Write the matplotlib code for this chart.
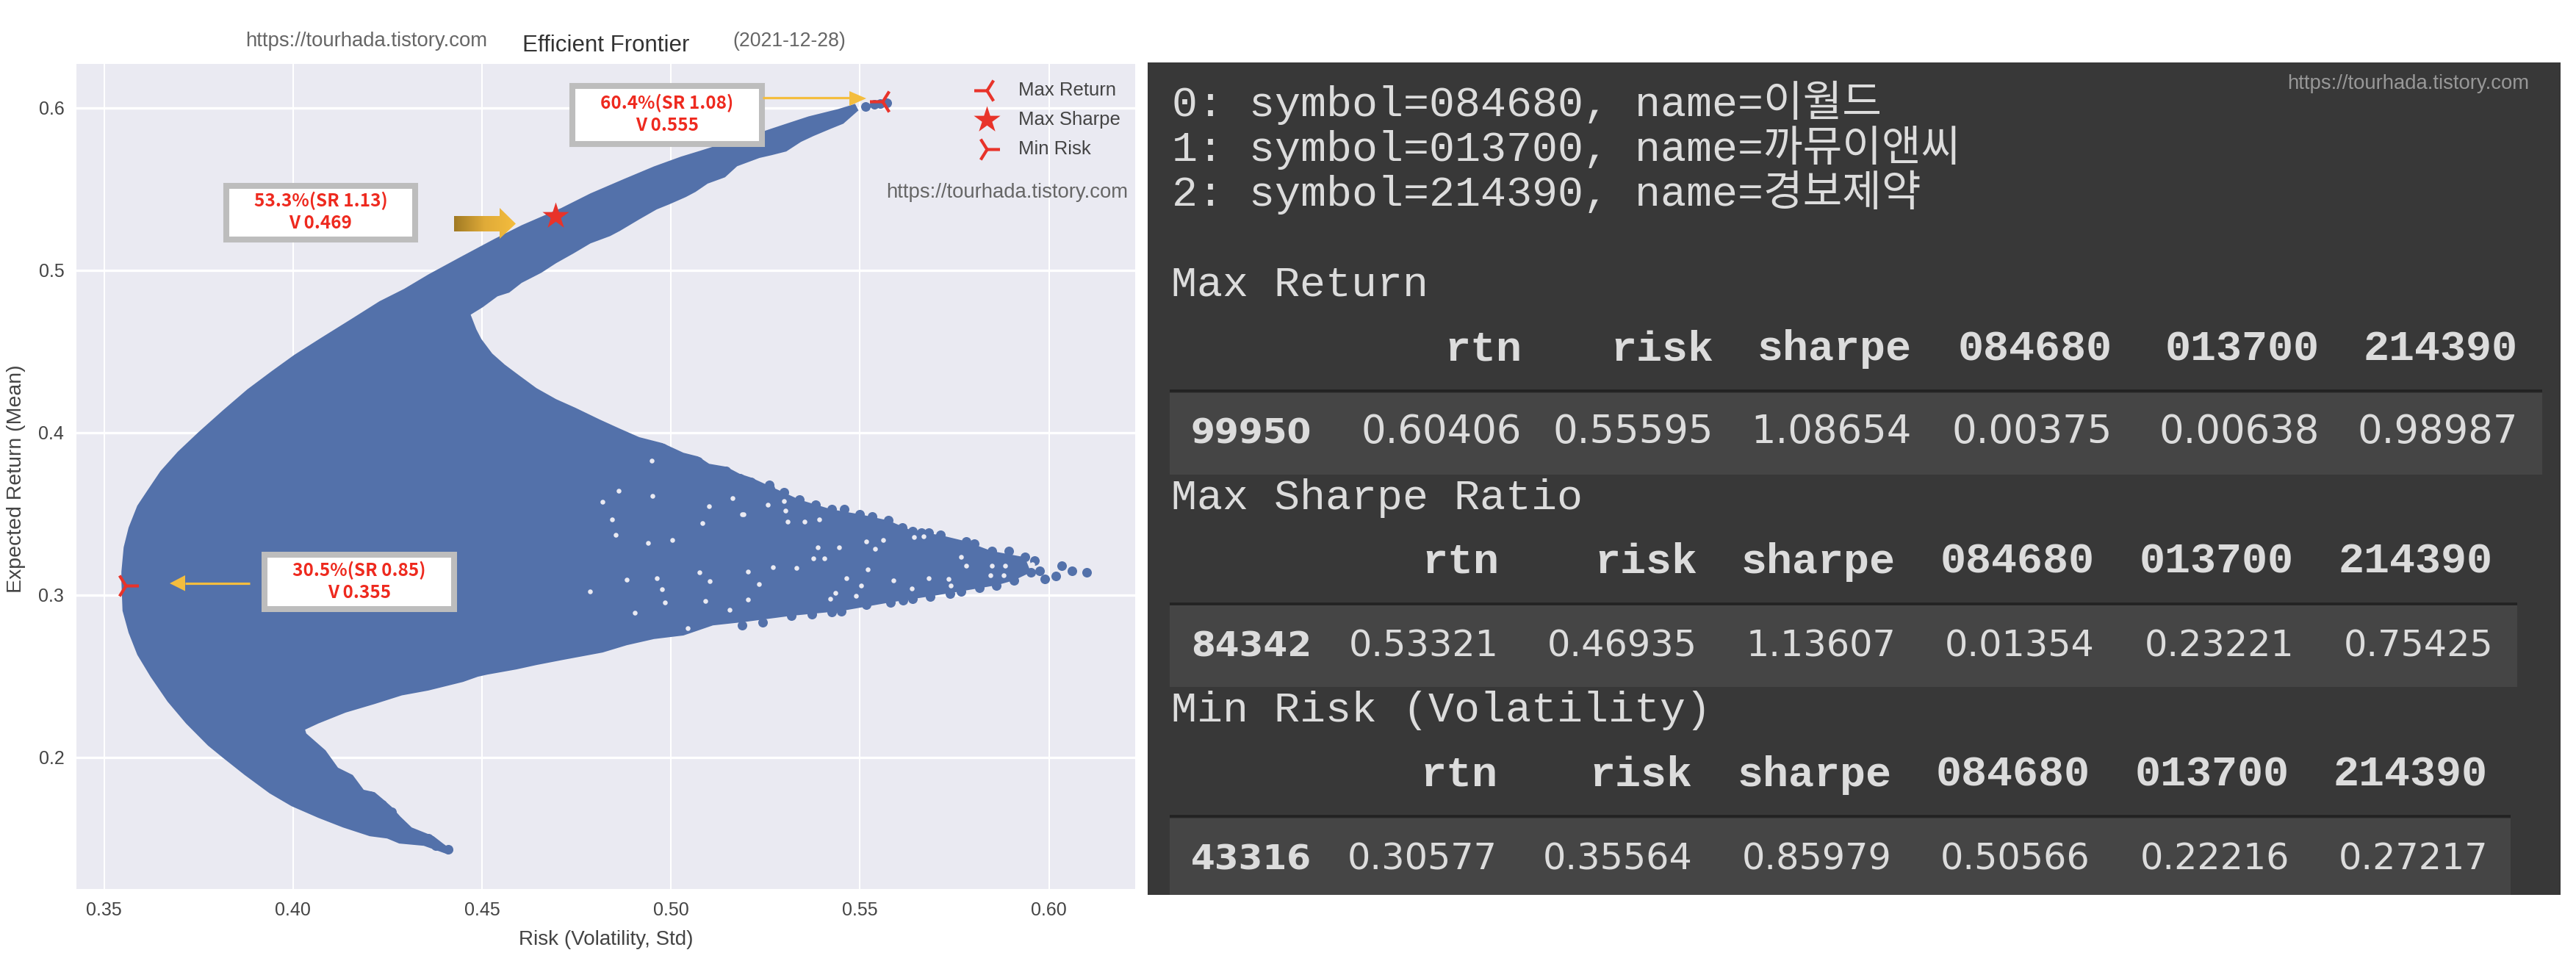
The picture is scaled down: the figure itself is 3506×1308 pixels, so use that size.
import numpy as np
import matplotlib
matplotlib.use("Agg")
import matplotlib.pyplot as plt
from matplotlib.patches import Rectangle, Polygon
from matplotlib.colors import LinearSegmentedColormap

# ---------------- data (risk, return) ----------------
# visible edge of the solid cloud, walked round from the minimum-risk side
lower_frontier = [(.3546,.3085),(.3549,.2903),(.3565,.2768),(.3588,.2632),(.3623,.2497),(.3668,.2344),(.3717,.2209),
                  (.3775,.2073),(.3814,.1999),(.3872,.1892),(.3938,.1779),(.3996,.1700),(.4067,.1628),(.4132,.1569),
                  (.4203,.1515),(.4249,.1501),(.4281,.1470),(.4346,.1456),(.4411,.1402),(.4424,.1424)]
lower_inner = [(.4397,.1470),(.4372,.1515),(.4314,.1569),(.4284,.1636),(.4261,.1696),(.4239,.1741),(.4216,.1786),
               (.4187,.1801),(.4158,.1892),(.4119,.1937),(.4086,.2044),(.4035,.2148),(.4032,.2171),(.4067,.2209),
               (.4139,.2276),(.4216,.2329),(.4288,.2382),(.4358,.2412),(.4450,.2465),(.4489,.2497),(.4514,.2510),
               (.4591,.2542),(.4644,.2569),(.4715,.2601),(.4819,.2646),(.4883,.2691),(.4955,.2729),(.5033,.2751),
               (.5111,.2813),(.5194,.2834)]
tip_body = [(.5318,.2872),(.5451,.2902),(.5581,.2955),(.5686,.2992),(.5767,.3023),(.5861,.3060),(.5907,.3090),
            (.5952,.3140),(.5936,.3233),(.5848,.3271),(.5780,.3331),(.5712,.3369),(.5640,.3394),(.5575,.3459),
            (.5500,.3497),(.5425,.3527),(.5340,.3587),(.5298,.3632),(.5262,.3670)]
upper_inner = [(.5211,.3724),(.5182,.3746),(.5146,.3790),(.5101,.3808),(.5072,.3853),(.5033,.3876),(.4978,.3935),
               (.4916,.3972),(.4864,.4025),(.4812,.4080),(.4747,.4153),(.4696,.4206),(.4644,.4274),(.4599,.4351),
               (.4560,.4419),(.4527,.4487),(.4498,.4577),(.4485,.4636),(.4470,.4726),(.4502,.4772),(.4541,.4839),
               (.4572,.4862),(.4605,.4922),(.4657,.4984),(.4696,.5043),(.4742,.5103),(.4787,.5165),(.4839,.5210),
               (.4865,.5242),(.4917,.5314),(.4962,.5374),(.4995,.5405),(.5039,.5450),(.5065,.5482),(.5097,.5533),
               (.5143,.5572),(.5175,.5640),(.5234,.5691),(.5266,.5708),(.5305,.5731),(.5344,.5790),(.5377,.5826),
               (.5423,.5871),(.5456,.5902),(.5496,.5984),(.5487,.6024)]
upper_frontier = [(.5442,.5992),(.5364,.5947),(.5305,.5902),(.5266,.5872),(.5247,.5857),(.5130,.5774),(.5078,.5736),
                  (.5026,.5699),(.4955,.5639),(.4877,.5563),(.4787,.5473),(.4709,.5382),(.4605,.5277),(.4534,.5194),
                  (.4443,.5081),(.4359,.4975),(.4294,.4885),(.4229,.4809),(.4152,.4696),(.4074,.4583),(.4003,.4478),
                  (.3944,.4379),(.3879,.4266),(.3815,.4138),(.3750,.4003),(.3695,.3882),(.3649,.3762),(.3614,.3641),
                  (.3588,.3550),(.3565,.3415),(.3552,.3294),(.3546,.3143)]

# individually visible points
point_risk = [.6100,.6060,.6034,.6018,.5988,.5962,.5952,.5975,.5936,.5894,.5848,.5803,.5780,.5738,.5712,
              .5682,.5663,.5640,.5611,.5575,.5533,.5500,.5458,.5425,.5383,.5340,.5298,.5262,
              .5907,.5861,.5816,.5767,.5738,.5686,.5640,.5614,.5581,.5516,.5451,.5425,.5373,.5318,.5243,.5188,
              .5515,.5538,.5554,.5571,
              .4978,.5033,.5072,.5101,.5146,.5182,.5211,.5260,
              .4411,.4378,.4358,.4261,.4236,.4203]
point_rtn = [.3140,.3150,.3180,.3115,.3101,.3211,.3140,.3150,.3233,.3271,.3271,.3316,.3331,.3316,.3369,
             .3384,.3384,.3394,.3414,.3459,.3482,.3497,.3527,.3527,.3557,.3587,.3632,.3655,
             .3090,.3060,.3045,.3023,.3008,.2992,.2977,.2970,.2955,.2940,.2902,.2895,.2880,.2872,.2834,.2812,
             .6008,.6023,.6024,.6029,
             .3905,.3844,.3822,.3777,.3763,.3717,.3695,.3678,
             .1434,.1456,.1501,.1665,.1710,.1764]

gap_risk = [.5298,.5303,.5308,.5354,.5393,.5445,.5389,.5376,.5406,.5269,.5520,.5188,.5256,.5562,.5464,.5503,
            .5588,.5490,.5435,.5637,.5682,.5734,.5741,.5767,.5780,.5848,.5884,.5845,.5881,.5956,.5669,.5643,
            .5516,.5539,.5233,.5204,.5331,.5422,.4819,.4861,.4951,.4949,.4844,.4853,.4940,.5003,.5084,.5162,
            .5191,.5076,.5102,.5091,.5156,.5045,.4882,.4963,.4977,.4984,.4905,.4785,.5204,.5100]
gap_rtn = [.3579,.3519,.3451,.3451,.3467,.3293,.3293,.3226,.3226,.3173,.3158,.3497,.3557,.3339,.3105,.3060,
           .3090,.2997,.3015,.3038,.3105,.3098,.3060,.3233,.3181,.3181,.3181,.3120,.3120,.3188,.3361,.3357,
           .3331,.3286,.3068,.3143,.3166,.2977,.3573,.3641,.3611,.3825,.3464,.3370,.3321,.3340,.3445,.3596,
           .3498,.3141,.3084,.2964,.2911,.2798,.3095,.3104,.3035,.2956,.2893,.3024,.2971,.3548]

marker_names = ["Max Return", "Max Sharpe", "Min Risk"]
marker_risk = [0.55595, 0.46935, 0.35564]
marker_rtn = [0.60406, 0.53321, 0.30577]
callouts = ["60.4%(SR 1.08)\nV 0.555", "53.3%(SR 1.13)\nV 0.469", "30.5%(SR 0.85)\nV 0.355"]

x_ticks = [0.35, 0.40, 0.45, 0.50, 0.55, 0.60]
y_ticks = [0.2, 0.3, 0.4, 0.5, 0.6]

stock_lines = ["0: symbol=084680, name=이월드", "1: symbol=013700, name=까뮤이앤씨", "2: symbol=214390, name=경보제약"]
table_columns = ["rtn", "risk", "sharpe", "084680", "013700", "214390"]
table_titles = ["Max Return", "Max Sharpe Ratio", "Min Risk (Volatility)"]
table_index = ["99950", "84342", "43316"]
row_max_return = ["0.60406", "0.55595", "1.08654", "0.00375", "0.00638", "0.98987"]
row_max_sharpe = ["0.53321", "0.46935", "1.13607", "0.01354", "0.23221", "0.75425"]
row_min_risk = ["0.30577", "0.35564", "0.85979", "0.50566", "0.22216", "0.27217"]

URL = "https://tourhada.tistory.com"
BLUE = "#5371aa"
RED = "#e8332a"
GOLD = "#f4bd3e"

W, H = 3506, 1308
fig = plt.figure(figsize=(W / 100, H / 100), dpi=100, facecolor="white")
SANS = ["Liberation Sans", "DejaVu Sans"]

# ---------------- frontier chart ----------------
ax = fig.add_axes([104 / W, 1 - 1210 / H, (1545 - 104) / W, (1210 - 87) / H], facecolor="#eaeaf2")
ax.set_xlim(0.3427, 0.6228)
ax.set_ylim(0.1190, 0.6270)
for s in ax.spines.values():
    s.set_visible(False)
ax.set_axisbelow(True)
ax.grid(axis="y", color="white", lw=2.4)
ax.grid(axis="x", color="white", lw=1.5)
ax.set_xticks(x_ticks, [f"{v:.2f}" for v in x_ticks])
ax.set_yticks(y_ticks, [f"{v:.1f}" for v in y_ticks])
ax.tick_params(length=0, labelsize=18, labelcolor="#444444", pad=12)
for t in ax.get_xticklabels() + ax.get_yticklabels():
    t.set_family(SANS)

outline = lower_frontier + lower_inner + tip_body + upper_inner + upper_frontier
ax.fill([p[0] for p in outline], [p[1] for p in outline], color=BLUE, lw=0, zorder=2)
ax.scatter(point_risk, point_rtn, s=88, color=BLUE, lw=0, zorder=3)
ax.scatter(gap_risk, gap_rtn, s=22, color="#eaeaf2", lw=0, zorder=4)

for name, r, m, mk, sz in zip(marker_names, marker_risk, marker_rtn, ["3", "*", "4"], [635, 750, 635]):
    ax.scatter([r], [m], s=sz, marker=mk, color=RED, lw=3.0 if mk != "*" else 0, zorder=5, label=name)
leg = ax.legend(loc="upper right", bbox_to_anchor=(1.0, 0.997), frameon=False,
                prop={"family": SANS, "size": 18.5}, labelspacing=0.62, handletextpad=0.85,
                handlelength=1.6, borderaxespad=0.4)
for t in leg.get_texts():
    t.set_color("#444444")

# ---------------- pixel-space overlay ----------------
ov = fig.add_axes([0, 0, 1, 1], facecolor="none")
ov.set_axis_off()


def restore():
    ov.set_xlim(0, W)
    ov.set_ylim(H, 0)
    ov.set_aspect("auto")


restore()

ov.text(334, 63, URL, family=SANS, size=19.8, color="#666666", va="baseline")
ov.text(711, 70, "Efficient Frontier", family=SANS, size=22.5, color="#333333", va="baseline")
ov.text(997, 63, "(2021-12-28)", family=SANS, size=19.2, color="#666666", va="baseline")
ov.text(1206, 269, URL, family=SANS, size=19.8, color="#666666", va="baseline")
ov.text(825, 1286, "Risk (Volatility, Std)", family=SANS, size=20, color="#444444", ha="center", va="baseline")
ov.text(22, 652, "Expected Return (Mean)", family=SANS, size=20.5, color="#444444", ha="center", va="center",
        rotation=90)

# call-out boxes
boxes = [(775, 112.5, 1041, 200), (304, 249, 569, 329.5), (356, 751, 622, 832.5)]
for (x0, y0, x1, y1), txt in zip(boxes, callouts):
    ov.add_patch(Rectangle((x0 + 4, y0 + 4), x1 - x0 - 8, y1 - y0 - 8, fc="white", ec="#bdbdbd", lw=5.8, zorder=6))
    ov.text((x0 + x1) / 2, (y0 + y1) / 2 - 0.5, txt, color="#ee2a1f", weight="bold", size=17.5,
            family=["Noto Sans CJK KR", "DejaVu Sans"], ha="center", va="center", linespacing=1.3, zorder=7)

# arrows
ov.plot([1038, 1158], [133, 133], color=GOLD, lw=2.3, zorder=6, solid_capstyle="butt")
ov.add_patch(Polygon([(1156, 124), (1179, 134), (1156, 144)], fc=GOLD, ec="none", zorder=6))
ov.plot([252, 340], [794, 794], color=GOLD, lw=2.3, zorder=6, solid_capstyle="butt")
ov.add_patch(Polygon([(252, 783), (231, 794), (252, 804.5)], fc=GOLD, ec="none", zorder=6))

arrow_poly = Polygon([(618, 294), (680, 294), (680, 283), (702, 304.5), (680, 325), (680, 315), (618, 315)],
                     fc="none", ec="none", transform=ov.transData)
ov.add_patch(arrow_poly)
cmap = LinearSegmentedColormap.from_list("g", ["#a07a24", "#e0ab38", GOLD])
im = ov.imshow(np.linspace(0, 1, 256)[None, :], extent=(618, 702, 325, 283), cmap=cmap, aspect="auto", zorder=6)
im.set_clip_path(arrow_poly)
restore()

# ---------------- dark table panel ----------------
MONO = ["Liberation Mono", "Noto Sans CJK KR"]
ov.add_patch(Rectangle((1562, 85), 3485 - 1562, 1218 - 85, fc="#383838", ec="none", zorder=1))
ov.text(3113, 121, URL, family=SANS, size=19.8, color="#989898", va="baseline", zorder=3)

TXT = "#dcdcdc"
for s, yb in zip(stock_lines, [157.5, 219, 280]):
    ov.text(1595, yb, s, family=MONO, size=42, color=TXT, va="baseline", zorder=3)

rows = [row_max_return, row_max_sharpe, row_min_risk]
title_y = [402.5, 693, 982]
header_y = [490.5, 780, 1069.5]
rule_y = [532, 821.5, 1111]
band = [(534.5, 645.5), (824, 935), (1114, 1218)]
band_right = [3460, 3426, 3417]
value_y = [603, 894, 1183]
value_size = [38, 35.5, 35.5]
col_right = [[2071, 2332, 2602, 2875, 3157, 3427],
             [2040, 2310, 2580, 2851, 3122, 3393],
             [2038, 2303.5, 2575, 2845, 3116, 3386]]

for i in range(3):
    ov.text(1594, title_y[i], table_titles[i], family=MONO, size=42, color=TXT, va="baseline", zorder=3)
    ov.add_patch(Rectangle((1592, band[i][0]), band_right[i] - 1592, band[i][1] - band[i][0],
                           fc="#454545", ec="none", zorder=2))
    ov.plot([1592, band_right[i]], [rule_y[i], rule_y[i]], color="#222222", lw=2.6, zorder=2, solid_capstyle="butt")
    ov.text(1621, value_y[i], table_index[i], family="DejaVu Sans", weight="bold", size=34, color=TXT,
            va="baseline", zorder=3)
    for c, v, xr in zip(table_columns, rows[i], col_right[i]):
        ov.text(xr, header_y[i], c, family=MONO, weight="bold", size=42, color=TXT, ha="right", va="baseline", zorder=3)
        ov.text(xr, value_y[i], v, family="DejaVu Sans", size=value_size[i], color=TXT, ha="right", va="baseline", zorder=3)

fig.savefig("out.png", dpi=100, facecolor="white")
